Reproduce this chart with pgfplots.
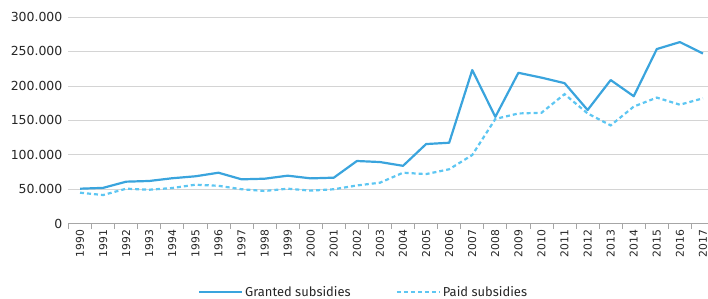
\documentclass[border=0pt]{standalone}
\usepackage{fontspec}
\setmainfont{DejaVu Sans}
\newfontfamily\legfont{Fira Sans}
\usepackage{pgfplots}
\usepackage{pgfplotstable}
\pgfplotsset{compat=1.18}
\definecolor{granted}{RGB}{58,164,221}
\definecolor{paid}{RGB}{93,198,242}
\pgfplotstableread{
idx year granted paid
0 1990 50800 45000
1 1991 52000 41600
2 1992 61000 50800
3 1993 62000 49300
4 1994 66000 51800
5 1995 68800 56600
6 1996 74000 55000
7 1997 64400 50000
8 1998 65300 47500
9 1999 69700 50800
10 2000 65800 48000
11 2001 66800 50000
12 2002 91000 55500
13 2003 89500 59500
14 2004 84000 74000
15 2005 115600 72000
16 2006 117500 79000
17 2007 223000 99700
18 2008 155000 152000
19 2009 219000 160000
20 2010 212000 161000
21 2011 204000 188000
22 2012 165000 160000
23 2013 208500 142700
24 2014 185000 170000
25 2015 253500 183000
26 2016 263600 172700
27 2017 247000 182000
}\datatable
\begin{document}
\begin{tikzpicture}
\begin{axis}[
  scale only axis, width=646bp, height=206.7bp,
  at={(0,0)}, anchor=south west,
  xmin=-0.5, xmax=27.5, ymin=0, ymax=300000,
  axis x line*=bottom, axis y line*=left,
  y axis line style={draw=none},
  x axis line style={draw=black!35, line width=0.8bp},
  xtick={0,...,27},
  xticklabel={\pgfmathparse{int(1990+\tick)}\pgfmathresult},
  minor xtick={-0.5,0.5,...,27.5},
  tick align=outside,
  major tick length=0pt,
  minor tick length=5bp,
  minor tick style={draw=black!35, line width=0.8bp},
  x tick label style={rotate=90, anchor=east, inner sep=0pt, font=\fontsize{10.8}{12}\selectfont, text=black!85},
  xticklabel shift=6bp,
  ytick={0,50000,...,300000},
  y tick label style={anchor=east, inner sep=0pt, font=\fontsize{12.5}{14}\selectfont, text=black!85},
  yticklabel shift=6bp,
  scaled y ticks=false,
  /pgf/number format/.cd, fixed, 1000 sep={.}, assume math mode=true, /pgfplots/.cd,
  ymajorgrids, grid style={draw=black!17, line width=0.8bp},
  legend columns=2,
  legend style={draw=none, fill=none, at={(0.4567,0)}, yshift=-68.3bp, anchor=center,
    font=\legfont\fontsize{13}{15}\selectfont, text=black!85,
    /tikz/every even column/.append style={column sep=43bp}},
  legend image code/.code={\draw[#1] (0bp,0bp) -- (43bp,0bp);},
]
\addplot[granted, line width=2.2bp, line join=round] table[x=idx, y=granted] {\datatable};
\addlegendentry{Granted subsidies}
\addplot[paid, line width=2.2bp, dash pattern=on 4bp off 3bp] table[x=idx, y=paid] {\datatable};
\addlegendentry{Paid subsidies}
\end{axis}
\pgfresetboundingbox
\path[use as bounding box] (-68.5bp,-75.3bp) rectangle (639.5bp,223.7bp);
\end{tikzpicture}
\end{document}
